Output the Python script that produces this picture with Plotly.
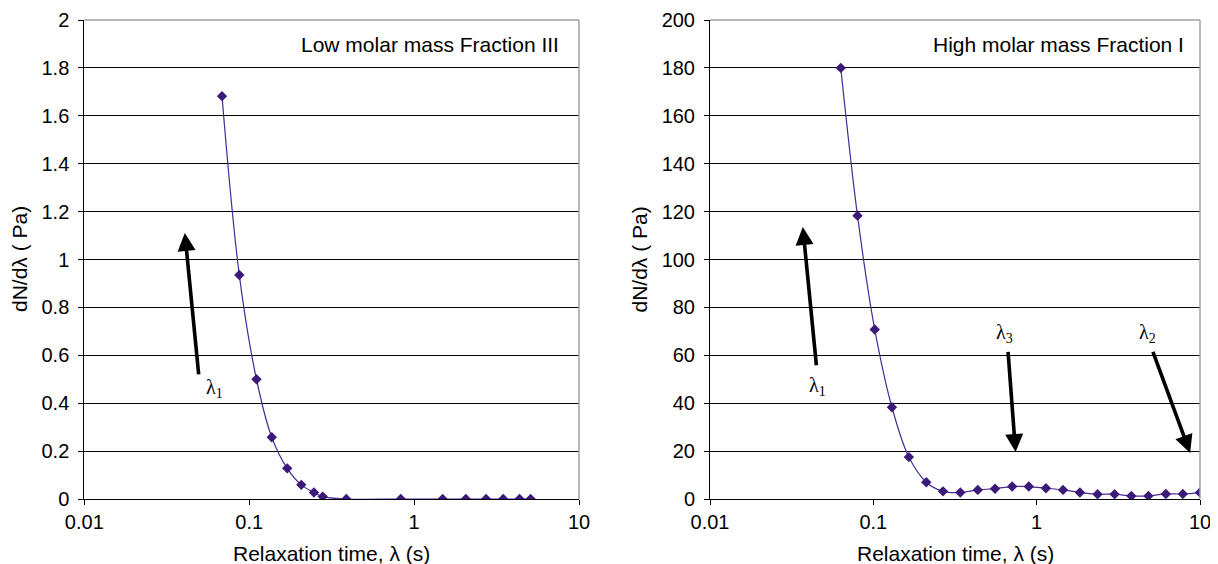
import math
import plotly.graph_objects as go

# ---------------- data ----------------
low_tau = [0.0684, 0.0871, 0.1107, 0.137, 0.170, 0.207, 0.247, 0.279, 0.388,
           0.830, 1.49, 2.06, 2.73, 3.47, 4.36, 5.09]
low_val = [1.682, 0.935, 0.50, 0.258, 0.128, 0.059, 0.027, 0.010, 0.0,
           0.0, 0.0, 0.0, 0.0, 0.0, 0.0, 0.0]

high_tau = [0.0632, 0.080, 0.102, 0.130, 0.165, 0.211, 0.267, 0.341, 0.436,
            0.556, 0.708, 0.895, 1.14, 1.45, 1.84, 2.36, 3.00, 3.80, 4.83,
            6.18, 7.85, 10.0]
high_val = [180.0, 118.3, 70.8, 38.3, 17.5, 7.0, 3.2, 2.7, 3.8, 4.3, 5.2, 5.2,
            4.5, 3.8, 2.7, 2.0, 2.0, 1.3, 1.3, 2.1, 2.1, 2.7]

x_tickvals = [0.01, 0.1, 1, 10]
x_ticktext = ["0.01", "0.1", "1", "10"]
low_yticks = [0, 0.2, 0.4, 0.6, 0.8, 1, 1.2, 1.4, 1.6, 1.8, 2]
high_yticks = [0, 20, 40, 60, 80, 100, 120, 140, 160, 180, 200]

panel_titles = ["Low molar mass Fraction III", "High molar mass Fraction I"]
x_title = "Relaxation time, λ (s)"
y_title = "dN/dλ ( Pa)"

# arrow annotations: (label, head_x, head_y, tail_x, tail_y, label_x, label_y)
low_arrows = [("1", 0.0407, 1.111, 0.0495, 0.514, 0.0612, 0.463)]
high_arrows = [("1", 0.0370, 113.6, 0.0449, 55.2, 0.0457, 46.8),
               ("3", 0.743, 19.6, 0.667, 62.1, 0.631, 69.2),
               ("2", 8.70, 19.2, 5.11, 62.1, 4.79, 69.2)]

# ---------------- style / layout ----------------
LINE_C = "#4a2a98"
MARK_C = "#3b1a7a"
FONT = "Liberation Sans, Arial, sans-serif"
SERIF = "Liberation Serif, Times New Roman, serif"
TICK_SIZE = 20
TITLE_SIZE = 21

# page body has an 8px margin: figure is drawn at (8, 8)
OFF = 8
W, H = 1218 - OFF, 564 - OFF

def px(x):   # window x pixel -> paper
    return (x - OFF) / W

def py(y):   # window y pixel -> paper
    return 1 - (y - OFF) / H

fig = go.Figure()
fig.add_trace(go.Scatter(x=low_tau, y=low_val, mode="lines+markers",
                         line=dict(color=LINE_C, width=1.2, shape="spline"),
                         marker=dict(symbol="diamond", size=8, color=MARK_C),
                         xaxis="x", yaxis="y", showlegend=False))
fig.add_trace(go.Scatter(x=high_tau, y=high_val, mode="lines+markers",
                         line=dict(color=LINE_C, width=1.2, shape="spline"),
                         marker=dict(symbol="diamond", size=8, color=MARK_C),
                         xaxis="x2", yaxis="y2", showlegend=False))

dom_y = [py(499), py(20)]
dom_x1 = [px(84.3), px(579)]
dom_x2 = [px(710), px(1200)]

def xaxis(domain, anchor):
    return dict(type="log", domain=domain, anchor=anchor, range=[-2, 1],
                tickvals=x_tickvals, ticktext=x_ticktext, showgrid=False,
                showline=True, linecolor="black", linewidth=1,
                ticks="outside", ticklen=5, tickcolor="black",
                tickfont=dict(family=FONT, size=TICK_SIZE, color="black"),
                zeroline=False, automargin=False)

def yaxis(domain, anchor, rng, ticks):
    return dict(domain=domain, anchor=anchor, range=rng, tickvals=ticks,
                showgrid=True, gridcolor="black", gridwidth=1,
                showline=True, linecolor="black", linewidth=1,
                ticks="outside", ticklen=5, tickcolor="black",
                ticklabelstandoff=5,
                tickfont=dict(family=FONT, size=TICK_SIZE, color="black"),
                zeroline=False, automargin=False)

annotations = []
shapes = []
panels = [("x", "y", dom_x1, panel_titles[0], low_arrows, 560.6, 19.5),
          ("x2", "y2", dom_x2, panel_titles[1], high_arrows, 1186, 639)]
for (xa, ya, xd, title, arrows, title_right, ytitle_x) in panels:
    # plot-area border (top & right in grey)
    shapes.append(dict(type="line", xref="paper", yref="paper",
                       x0=xd[0], x1=xd[1], y0=dom_y[1], y1=dom_y[1],
                       line=dict(color="#a0a0a0", width=1.5), layer="above"))
    shapes.append(dict(type="line", xref="paper", yref="paper",
                       x0=xd[1], x1=xd[1], y0=dom_y[0], y1=dom_y[1],
                       line=dict(color="#a0a0a0", width=1.5), layer="above"))
    annotations.append(dict(text=title, xref="paper", yref="paper",
                            x=px(title_right), y=py(44),
                            xanchor="right", yanchor="middle", showarrow=False,
                            font=dict(family=FONT, size=TITLE_SIZE, color="black")))
    annotations.append(dict(text=x_title, xref="paper", yref="paper",
                            x=(xd[0] + xd[1]) / 2, y=py(553),
                            xanchor="center", yanchor="middle", showarrow=False,
                            font=dict(family=FONT, size=TITLE_SIZE, color="black")))
    annotations.append(dict(text=y_title, xref="paper", yref="paper",
                            x=px(ytitle_x), y=(dom_y[0] + dom_y[1]) / 2,
                            xanchor="center", yanchor="middle", showarrow=False,
                            textangle=-90,
                            font=dict(family=FONT, size=TITLE_SIZE, color="black")))
    for (lab, hx, hy, tx, ty, lx, ly) in arrows:
        annotations.append(dict(x=math.log10(hx), y=hy, ax=math.log10(tx), ay=ty,
                                xref=xa, yref=ya, axref=xa, ayref=ya,
                                text="", showarrow=True, arrowhead=2,
                                arrowsize=1.0, arrowwidth=3.6, arrowcolor="black",
                                standoff=0, startstandoff=0))
        annotations.append(dict(x=math.log10(lx), y=ly, xref=xa, yref=ya,
                                text="λ<sub>" + lab + "</sub>", showarrow=False,
                                xanchor="center", yanchor="middle",
                                font=dict(family=SERIF, size=20, color="black")))

fig.update_layout(
    width=W, height=H,
    margin=dict(l=0, r=0, t=0, b=0),
    paper_bgcolor="white", plot_bgcolor="white",
    xaxis=xaxis(dom_x1, "y"),
    yaxis=yaxis(dom_y, "x", [0, 2], low_yticks),
    xaxis2=xaxis(dom_x2, "y2"),
    yaxis2=yaxis(dom_y, "x2", [0, 200], high_yticks),
    annotations=annotations,
    shapes=shapes,
)

fig.write_html("out.html")
